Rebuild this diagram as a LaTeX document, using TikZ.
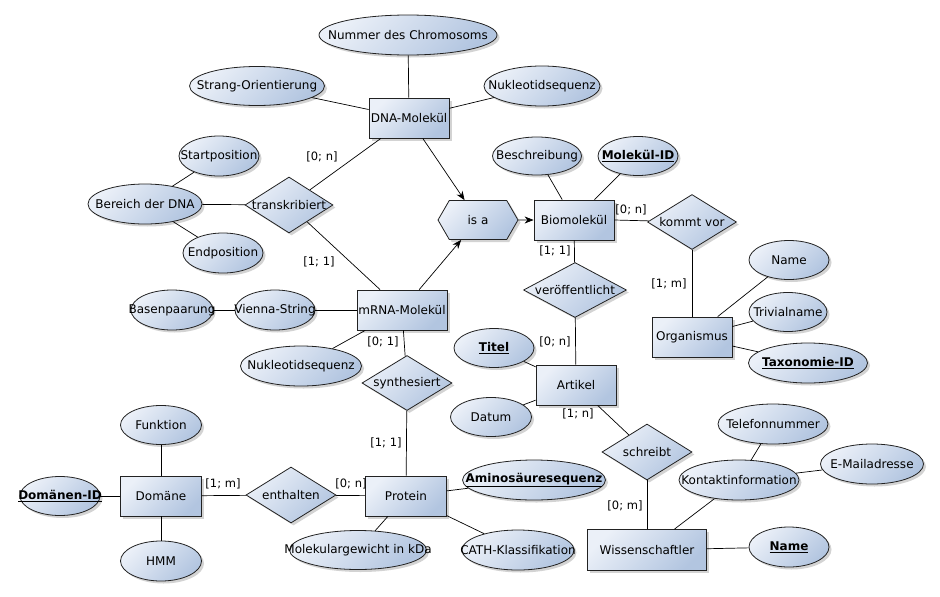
\documentclass[tikz,border=0pt]{standalone}
\usepackage{fontspec}
\setmainfont{DejaVu Sans}
\usetikzlibrary{shapes.geometric,shapes.symbols,shadows,arrows.meta}
\definecolor{cLight}{HTML}{EBF0F8}
\definecolor{cDark}{HTML}{B2C5E0}
\definecolor{cLine}{HTML}{222222}
\definecolor{cShadow}{HTML}{C8C8C8}
\newcommand\zbox[1]{\makebox[0pt]{#1}}
\newcommand\keyattr[1]{\underline{\textbf{#1}}}
\tikzset{
  fillshade/.style={draw=cLine, line width=0.8pt, top color=cLight, bottom color=cDark, shading angle=45,
    drop shadow={shadow xshift=2.5pt, shadow yshift=-2.5pt, fill=cShadow, opacity=0.8}},
  entity/.style={fillshade, rectangle, inner sep=0pt, minimum height=40pt},
  rel/.style={fillshade, diamond, inner sep=0pt, minimum width=90pt, minimum height=56pt},
  attr/.style={fillshade, ellipse, inner sep=0pt, minimum width=80pt, minimum height=40pt},
  hexa/.style={fillshade, signal, signal to=east and west, signal pointer angle=120, inner sep=0pt, minimum width=80pt, minimum height=39pt},
  card/.style={inner sep=0pt, font=\fontsize{11.5}{13}\selectfont},
  conn/.style={draw=black, line width=0.7pt},
  arr/.style={conn, -{Stealth[length=9pt,width=7pt]}},
}
\begin{document}
\begin{tikzpicture}[x=1pt,y=-1pt, font=\fontsize{12}{14}\selectfont]
\useasboundingbox (0,0) rectangle (940,597);
% entities
\node[entity, minimum width=80pt] (dna) at (409,118) {DNA-Molekül};
\node[entity, minimum width=90pt] (mrna) at (402,310) {\zbox{mRNA-Molekül}};
\node[entity, minimum width=80pt] (bio) at (574,220) {Biomolekül};
\node[entity, minimum width=80pt] (artikel) at (576,385) {Artikel};
\node[entity, minimum width=80pt] (org) at (692,337) {Organismus};
\node[entity, minimum width=81pt] (domaene) at (161,496) {Domäne};
\node[entity, minimum width=81pt] (protein) at (406,496) {Protein};
\node[entity, minimum width=119pt, minimum height=41pt] (wiss) at (647,550) {Wissenschaftler};
% relationships
\node[rel, minimum width=88pt] (trans) at (289,205) {\zbox{transkribiert}};
\node[rel, minimum width=89pt, minimum height=55pt] (kommt) at (692,222) {\zbox{kommt vor}};
\node[rel, minimum width=103pt, minimum height=55pt] (veroeff) at (575,290) {\zbox{veröffentlicht}};
\node[rel, minimum height=55pt] (synth) at (407,383) {\zbox{synthesiert}};
\node[rel] (enth) at (291,495) {\zbox{enthalten}};
\node[rel] (schreibt) at (647,452) {\zbox{schreibt}};
% is-a
\node[hexa] (isa) at (478,220) {\zbox{is a}};
% attributes
\node[attr, minimum width=178pt] (nummer) at (408,35) {\zbox{Nummer des Chromosoms}};
\node[attr, minimum width=135pt, minimum height=39pt] (strang) at (257,86) {\zbox{Strang-Orientierung}};
\node[attr, minimum width=116pt] (nuk1) at (542,86) {\zbox{Nukleotidsequenz}};
\node[attr] (start) at (219,156) {\zbox{Startposition}};
\node[attr, minimum width=114pt] (bereich) at (145,204) {\zbox{Bereich der DNA}};
\node[attr] (endpos) at (223,253) {\zbox{Endposition}};
\node[attr, minimum width=89pt, minimum height=38pt] (beschr) at (537,156) {\zbox{Beschreibung}};
\node[attr, minimum height=39pt] (molid) at (638,156) {\zbox{\keyattr{Molekül-ID}}};
\node[attr, minimum height=39pt] (name1) at (789,260) {\zbox{Name}};
\node[attr, minimum width=78pt, minimum height=39pt] (trivial) at (788,312) {\zbox{Trivialname}};
\node[attr, minimum width=119pt] (taxid) at (808,363) {\zbox{\keyattr{Taxonomie-ID}}};
\node[attr, minimum height=39pt] (titel) at (494,348) {\zbox{\keyattr{Titel}}};
\node[attr, minimum width=81pt, minimum height=39pt] (datum) at (491,417) {\zbox{Datum}};
\node[attr, minimum width=82pt] (basen) at (172,310) {\zbox{Basenpaarung}};
\node[attr] (vienna) at (275,310) {\zbox{Vienna-String}};
\node[attr, minimum width=121pt] (nuk2) at (301,366) {\zbox{Nukleotidsequenz}};
\node[attr, minimum width=81pt, minimum height=39pt] (funktion) at (161,425) {\zbox{Funktion}};
\node[attr, minimum height=39pt] (domid) at (60,496) {\zbox{\keyattr{Domänen-ID}}};
\node[attr, minimum width=81pt] (hmm) at (161,561) {\zbox{HMM}};
\node[attr, minimum width=137pt, minimum height=39pt] (molgew) at (358,550) {\zbox{Molekulargewicht in kDa}};
\node[attr, minimum width=143pt] (amino) at (534,480) {\zbox{\keyattr{Aminosäuresequenz}}};
\node[attr, minimum width=112pt] (cath) at (518,550) {\zbox{CATH-Klassifikation}};
\node[attr, minimum width=120pt] (kontakt) at (739,480) {\zbox{Kontaktinformation}};
\node[attr, minimum width=110pt] (telefon) at (773,424) {\zbox{Telefonnummer}};
\node[attr, minimum width=103pt] (email) at (872,464) {\zbox{E-Mailadresse}};
\node[attr] (name2) at (789,547) {\zbox{\keyattr{Name}}};
% cardinalities
\node[card] (c1) at (322,157) {[0; n]};
\node[card] (c2) at (319,262) {[1; 1]};
\node[card] (c3) at (631,210) {[0; n]};
\node[card] (c4) at (555,251) {[1; 1]};
\node[card] (c5) at (555,342) {[0; n]};
\node[card] (c6) at (669,284) {[1; m]};
\node[card] (c7) at (383,342) {[0; 1]};
\node[card] (c8) at (386,443) {[1; 1]};
\node[card] (c9) at (223,484) {[1; m]};
\node[card] (c10) at (351,484) {[0; n]};
\node[card] (c11) at (578,414) {[1; n]};
\node[card] (c12) at (625,506) {[0; m]};
% connectors
\draw[conn] (dna) -- (nummer);
\draw[conn] (dna) -- (strang);
\draw[conn] (dna) -- (nuk1);
\draw[conn] (dna) -- (trans);
\draw[conn] (trans) -- (mrna);
\draw[conn] (trans) -- (bereich);
\draw[conn] (bereich) -- (start);
\draw[conn] (bereich) -- (endpos);
\draw[arr] (dna) -- (isa);
\draw[arr] (mrna) -- (isa);
\draw[arr] (isa) -- (bio);
\draw[conn] (bio) -- (beschr);
\draw[conn] (bio) -- (molid);
\draw[conn] (bio.east) -- (kommt);
\draw[conn] (kommt) -- (org);
\draw[conn] (org) -- (name1);
\draw[conn] (org) -- (trivial);
\draw[conn] (org) -- (taxid);
\draw[conn] (bio) -- (veroeff);
\draw[conn] (veroeff) -- (artikel);
\draw[conn] (artikel) -- (titel);
\draw[conn] (artikel) -- (datum);
\draw[conn] (artikel) -- (schreibt);
\draw[conn] (schreibt) -- (wiss);
\draw[conn] (wiss) -- (kontakt);
\draw[conn] (kontakt) -- (telefon);
\draw[conn] (kontakt) -- (email);
\draw[conn] (wiss) -- (name2);
\draw[conn] (mrna) -- (vienna);
\draw[conn] (vienna) -- (basen);
\draw[conn] (mrna) -- (nuk2);
\draw[conn] (mrna) -- (synth);
\draw[conn] (synth) -- (protein);
\draw[conn] (protein) -- (enth);
\draw[conn] (enth) -- (domaene);
\draw[conn] (domaene) -- (funktion);
\draw[conn] (domaene) -- (hmm);
\draw[conn] (domaene) -- (domid);
\draw[conn] (protein) -- (amino);
\draw[conn] (protein) -- (cath);
\draw[conn] (protein) -- (molgew);
\end{tikzpicture}
\end{document}
